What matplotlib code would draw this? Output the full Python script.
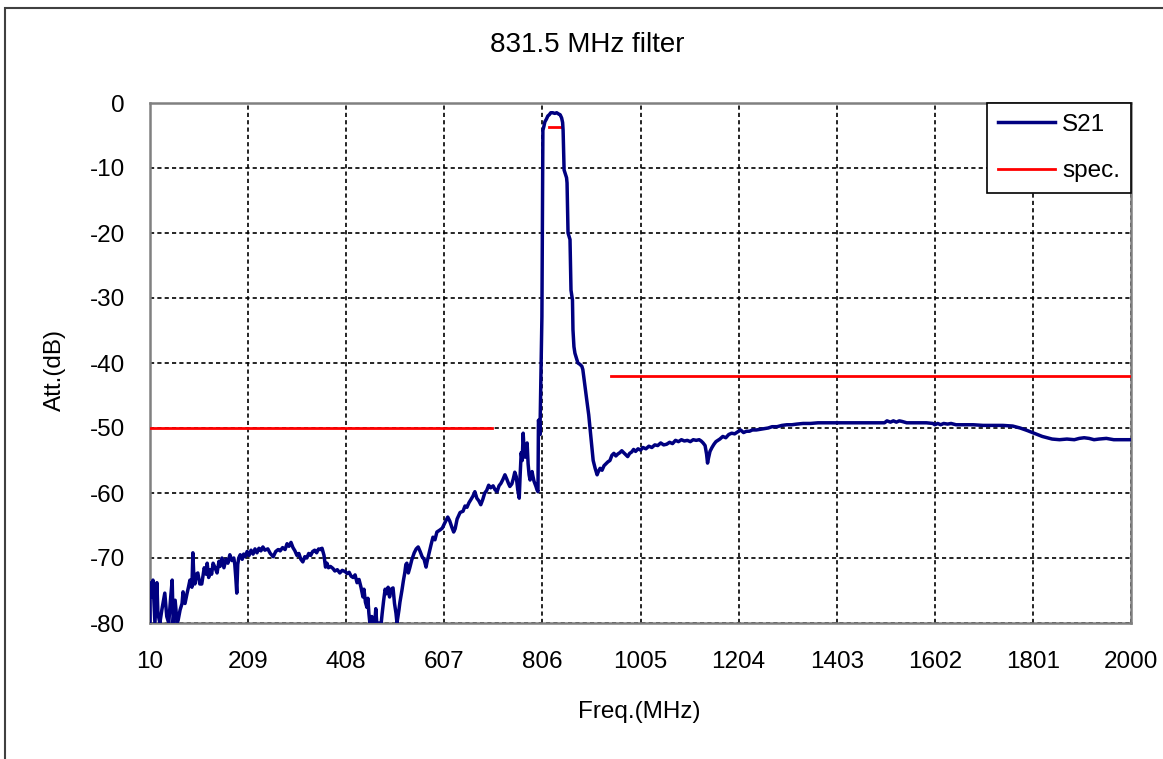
"""
831.5 MHz band-pass filter: measured S21 against the attenuation spec.
"""

import matplotlib
matplotlib.use("Agg")
import matplotlib.pyplot as plt
from matplotlib.patches import Rectangle

plt.rcParams["font.family"] = ["Liberation Sans", "DejaVu Sans"]
plt.rcParams["axes.unicode_minus"] = False

TITLE = "831.5 MHz filter"
X_LABEL = "Freq.(MHz)"
Y_LABEL = "Att.(dB)"
X_TICKS = [10, 209, 408, 607, 806, 1005, 1204, 1403, 1602, 1801, 2000]
Y_TICKS = [0, -10, -20, -30, -40, -50, -60, -70, -80]

s21_freq = [
    10, 10, 14, 16, 20, 24, 26, 30, 34, 40, 44, 48, 52, 55, 57, 61, 65, 67, 71, 75,
    77, 81, 85, 88, 91, 95, 97, 99, 101, 104, 107, 111, 115, 120, 124, 126, 129, 132, 135, 138,
    142, 146, 150, 152, 156, 160, 164, 168, 172, 176, 180, 182, 184, 186, 188, 190, 193, 197, 200, 203,
    207, 211, 215, 219, 223, 227, 231, 235, 239, 243, 249, 254, 260, 265, 270, 274, 279, 284, 288, 292,
    296, 300, 304, 308, 312, 316, 320, 324, 328, 332, 336, 340, 344, 348, 352, 356, 359, 363, 366, 369,
    372, 376, 381, 385, 390, 395, 400, 406, 410, 414, 418, 422, 426, 430, 434, 438, 442, 444, 447, 450,
    452, 454, 456, 460, 462, 466, 468, 470, 475, 479, 481, 484, 487, 490, 493, 496, 499, 503, 506, 509,
    511, 515, 517, 521, 524, 527, 529, 531, 534, 537, 541, 546, 550, 554, 558, 562, 566, 570, 572, 576,
    580, 584, 588, 592, 598, 603, 608, 614, 618, 622, 626, 629, 633, 639, 645, 649, 653, 657, 661, 665,
    669, 673, 677, 681, 685, 689, 693, 697, 701, 706, 710, 714, 718, 722, 726, 730, 734, 737, 740, 744,
    747, 750, 753, 756, 759, 761, 763, 765, 767, 769, 771, 773, 775, 777, 779, 781, 783, 785, 787, 789,
    791, 793, 795, 797, 798, 800, 801, 803, 805, 806, 807, 809, 811, 814, 817, 820, 823, 827, 831, 835,
    839, 842, 845, 847, 848, 850, 855, 856, 858, 862, 864, 867, 868, 870, 872, 878, 882, 886, 888, 891,
    896, 900, 903, 907, 909, 913, 917, 919, 923, 927, 931, 935, 939, 943, 947, 951, 955, 959, 963, 967,
    971, 975, 979, 983, 987, 991, 995, 1000, 1005, 1010, 1016, 1022, 1028, 1034, 1040, 1046, 1052, 1058, 1064, 1070,
    1076, 1082, 1088, 1094, 1100, 1106, 1112, 1118, 1124, 1128, 1132, 1136, 1139, 1141, 1143, 1146, 1150, 1154, 1158, 1162,
    1166, 1172, 1178, 1184, 1190, 1196, 1202, 1208, 1214, 1220, 1226, 1232, 1240, 1248, 1256, 1264, 1272, 1282, 1292, 1302,
    1312, 1322, 1335, 1350, 1365, 1380, 1400, 1420, 1440, 1460, 1480, 1500, 1505, 1512, 1518, 1524, 1530, 1536, 1545, 1558,
    1570, 1585, 1598, 1602, 1608, 1614, 1620, 1628, 1635, 1645, 1660, 1680, 1700, 1720, 1740, 1760, 1775, 1790, 1800, 1810,
    1820, 1830, 1840, 1855, 1870, 1885, 1895, 1905, 1915, 1925, 1935, 1950, 1965, 1980, 2000,
]
s21_db = [
    -80, -73.8, -76, -73.4, -80, -73.8, -78.5, -80, -78, -75.4, -79, -80, -76, -73.4, -80, -76.5, -80, -79.6, -78, -77,
    -75.2, -77, -75.5, -74.5, -73.4, -74.5, -69.2, -73, -74, -72.5, -72.3, -74, -74, -71.5, -72.5, -70.8, -73, -71.8, -72.5, -70.8,
    -71.5, -72.3, -70.5, -71.3, -70, -71.5, -70.2, -70.8, -69.5, -70.4, -70.0, -71, -73, -75.4, -71, -70, -69.5, -70.2, -69.4, -69.8,
    -69.0, -69.6, -68.8, -69.4, -68.6, -69.2, -68.5, -68.9, -68.3, -68.8, -68.6, -69.3, -69.8, -69.0, -68.7, -68.9, -68.4, -68.7, -67.8, -68.2,
    -67.6, -68.4, -68.9, -69.6, -69.3, -70.2, -70.6, -69.8, -70.0, -69.3, -69.6, -69.0, -68.8, -69.2, -68.6, -68.7, -68.5, -69.6, -71.4, -70.8,
    -71.5, -71.3, -71.6, -72.0, -71.8, -72.3, -71.9, -72.1, -72.4, -72.2, -72.8, -73.0, -72.6, -73.8, -73.3, -74.5, -76.0, -74.8, -76.8, -77.6,
    -76.2, -78.5, -80, -79, -80, -80, -77.8, -80, -80, -80, -78.5, -76.5, -74.8, -75.5, -74.5, -76, -74.8, -74.6, -77, -78.5,
    -80, -78, -76.8, -75, -73.5, -72.2, -71, -70.8, -72.3, -71.5, -70.3, -69.2, -68.6, -68.3, -69.0, -69.8, -70.2, -71.4, -70.6, -69.3,
    -68.0, -66.8, -67.2, -66.0, -65.7, -65.4, -64.6, -63.7, -64.3, -65.2, -66.0, -65.5, -64.0, -63.0, -62.8, -62.0, -62.2, -61.5, -61.0, -60.5,
    -59.8, -60.8, -61.2, -61.8, -61.0, -60.0, -59.6, -58.8, -59.2, -58.9, -59.5, -59.8, -58.9, -58.5, -57.9, -57.2, -57.9, -58.5, -59.0, -58.6,
    -57.8, -56.8, -57.5, -59.5, -60.8, -57, -53.8, -55, -50.8, -53.5, -54.5, -53, -52.3, -55.5, -57.2, -58, -57.5, -56.7, -57.5, -58.2,
    -58.6, -59.0, -59.5, -59.8, -48.8, -49.5, -51, -41.5, -32.9, -20, -4.2, -3.6, -2.9, -2.5, -2.0, -1.8, -1.5, -1.5, -1.6, -1.5,
    -1.7, -1.8, -2.3, -3.0, -4.2, -10.3, -11.5, -12.3, -20, -21, -28.8, -30.3, -34.9, -37.5, -38.5, -40, -40.2, -40.5, -41, -42.8,
    -45.7, -48, -50.3, -53.5, -55, -56.2, -57.2, -56.8, -56.2, -56.5, -55.8, -55.5, -55.2, -55.0, -54.2, -53.9, -54.3, -54.0, -53.8, -53.5,
    -53.8, -54.1, -54.4, -53.9, -53.7, -53.3, -53.6, -53.2, -53.4, -53.0, -53.2, -52.8, -53.0, -52.6, -52.7, -52.3, -52.6, -52.5, -52.2, -52.4,
    -51.9, -52.1, -51.8, -52.0, -51.9, -52.1, -51.8, -51.9, -51.8, -52.0, -52.3, -52.7, -54.0, -55.4, -54.6, -53.6, -53.0, -52.5, -52.1, -51.9,
    -51.7, -51.3, -51.5, -51.0, -50.8, -50.9, -50.6, -50.3, -50.7, -50.5, -50.5, -50.3, -50.3, -50.2, -50.1, -50.0, -49.8, -49.8, -49.6, -49.5,
    -49.5, -49.4, -49.3, -49.3, -49.2, -49.2, -49.2, -49.2, -49.2, -49.2, -49.2, -49.2, -48.9, -49.1, -48.9, -49.1, -48.9, -49.0, -49.2, -49.2,
    -49.2, -49.2, -49.3, -49.5, -49.3, -49.5, -49.3, -49.4, -49.3, -49.5, -49.5, -49.5, -49.6, -49.6, -49.6, -49.7, -50.0, -50.4, -50.7, -51.0,
    -51.3, -51.5, -51.7, -51.8, -51.7, -51.8, -51.6, -51.5, -51.6, -51.8, -51.7, -51.6, -51.8, -51.8, -51.8,
]

# spec mask segments (MHz, dB)
spec_low_freq = [10, 704]
spec_low_db = [-50, -50]
spec_pass_freq = [819, 844]
spec_pass_db = [-3.7, -3.7]
spec_high_freq = [945, 2000]
spec_high_db = [-42, -42]

W, H = 1163, 759
FS = 17.5


def main():
    fig = plt.figure(figsize=(W / 100, H / 100), dpi=100)
    fig.patch.set_facecolor("white")

    # chart-area border (Excel style), runs off the right/bottom of the image
    fig.patches.append(Rectangle((5 / W, -0.2), 1.2, 1.2 - 8 / H, transform=fig.transFigure,
                                 fill=False, edgecolor="#404040", linewidth=1.5))

    ax = fig.add_axes([150 / W, 1 - 623 / H, 981 / W, 520 / H])

    ax.plot(s21_freq, s21_db, color="#000080", linewidth=2.5, label="S21", zorder=3)
    ax.plot(spec_low_freq, spec_low_db, color="#ff0000", linewidth=2.0, label="spec.", zorder=4)
    ax.plot(spec_pass_freq, spec_pass_db, color="#ff0000", linewidth=2.0, zorder=2)
    ax.plot(spec_high_freq, spec_high_db, color="#ff0000", linewidth=2.0, zorder=4)

    ax.set_xlim(X_TICKS[0], X_TICKS[-1])
    ax.set_ylim(Y_TICKS[-1], Y_TICKS[0])
    ax.set_xticks(X_TICKS)
    ax.set_yticks(Y_TICKS)
    ax.set_xticklabels([str(t) for t in X_TICKS])
    ax.set_yticklabels([str(t) for t in Y_TICKS])
    ax.tick_params(axis="both", length=0, labelsize=FS)
    ax.tick_params(axis="x", pad=20)
    ax.tick_params(axis="y", pad=18)

    ax.grid(True, color="black", linewidth=1.2, linestyle=(0, (2.5, 1.9)))
    ax.set_axisbelow(True)
    for side in ax.spines.values():
        side.set_color("#808080")
        side.set_linewidth(1.8)

    fig.text(587 / W, 1 - 45 / H, TITLE, ha="center", va="center", fontsize=20)
    fig.text(639 / W, 1 - 712 / H, X_LABEL, ha="center", va="center", fontsize=FS)
    fig.text(55 / W, 1 - 370 / H, Y_LABEL, ha="center", va="center", fontsize=FS, rotation=90)

    leg = ax.legend(loc="upper right", fontsize=FS, frameon=True, fancybox=False,
                    borderaxespad=0, borderpad=0.45, labelspacing=1.0,
                    handlelength=2.35, handletextpad=0.3)
    leg.get_frame().set_edgecolor("black")
    leg.get_frame().set_linewidth(1.2)
    leg.get_frame().set_alpha(1.0)

    fig.savefig("out.png", dpi=100, facecolor="white")
    plt.close(fig)


if __name__ == "__main__":
    main()
